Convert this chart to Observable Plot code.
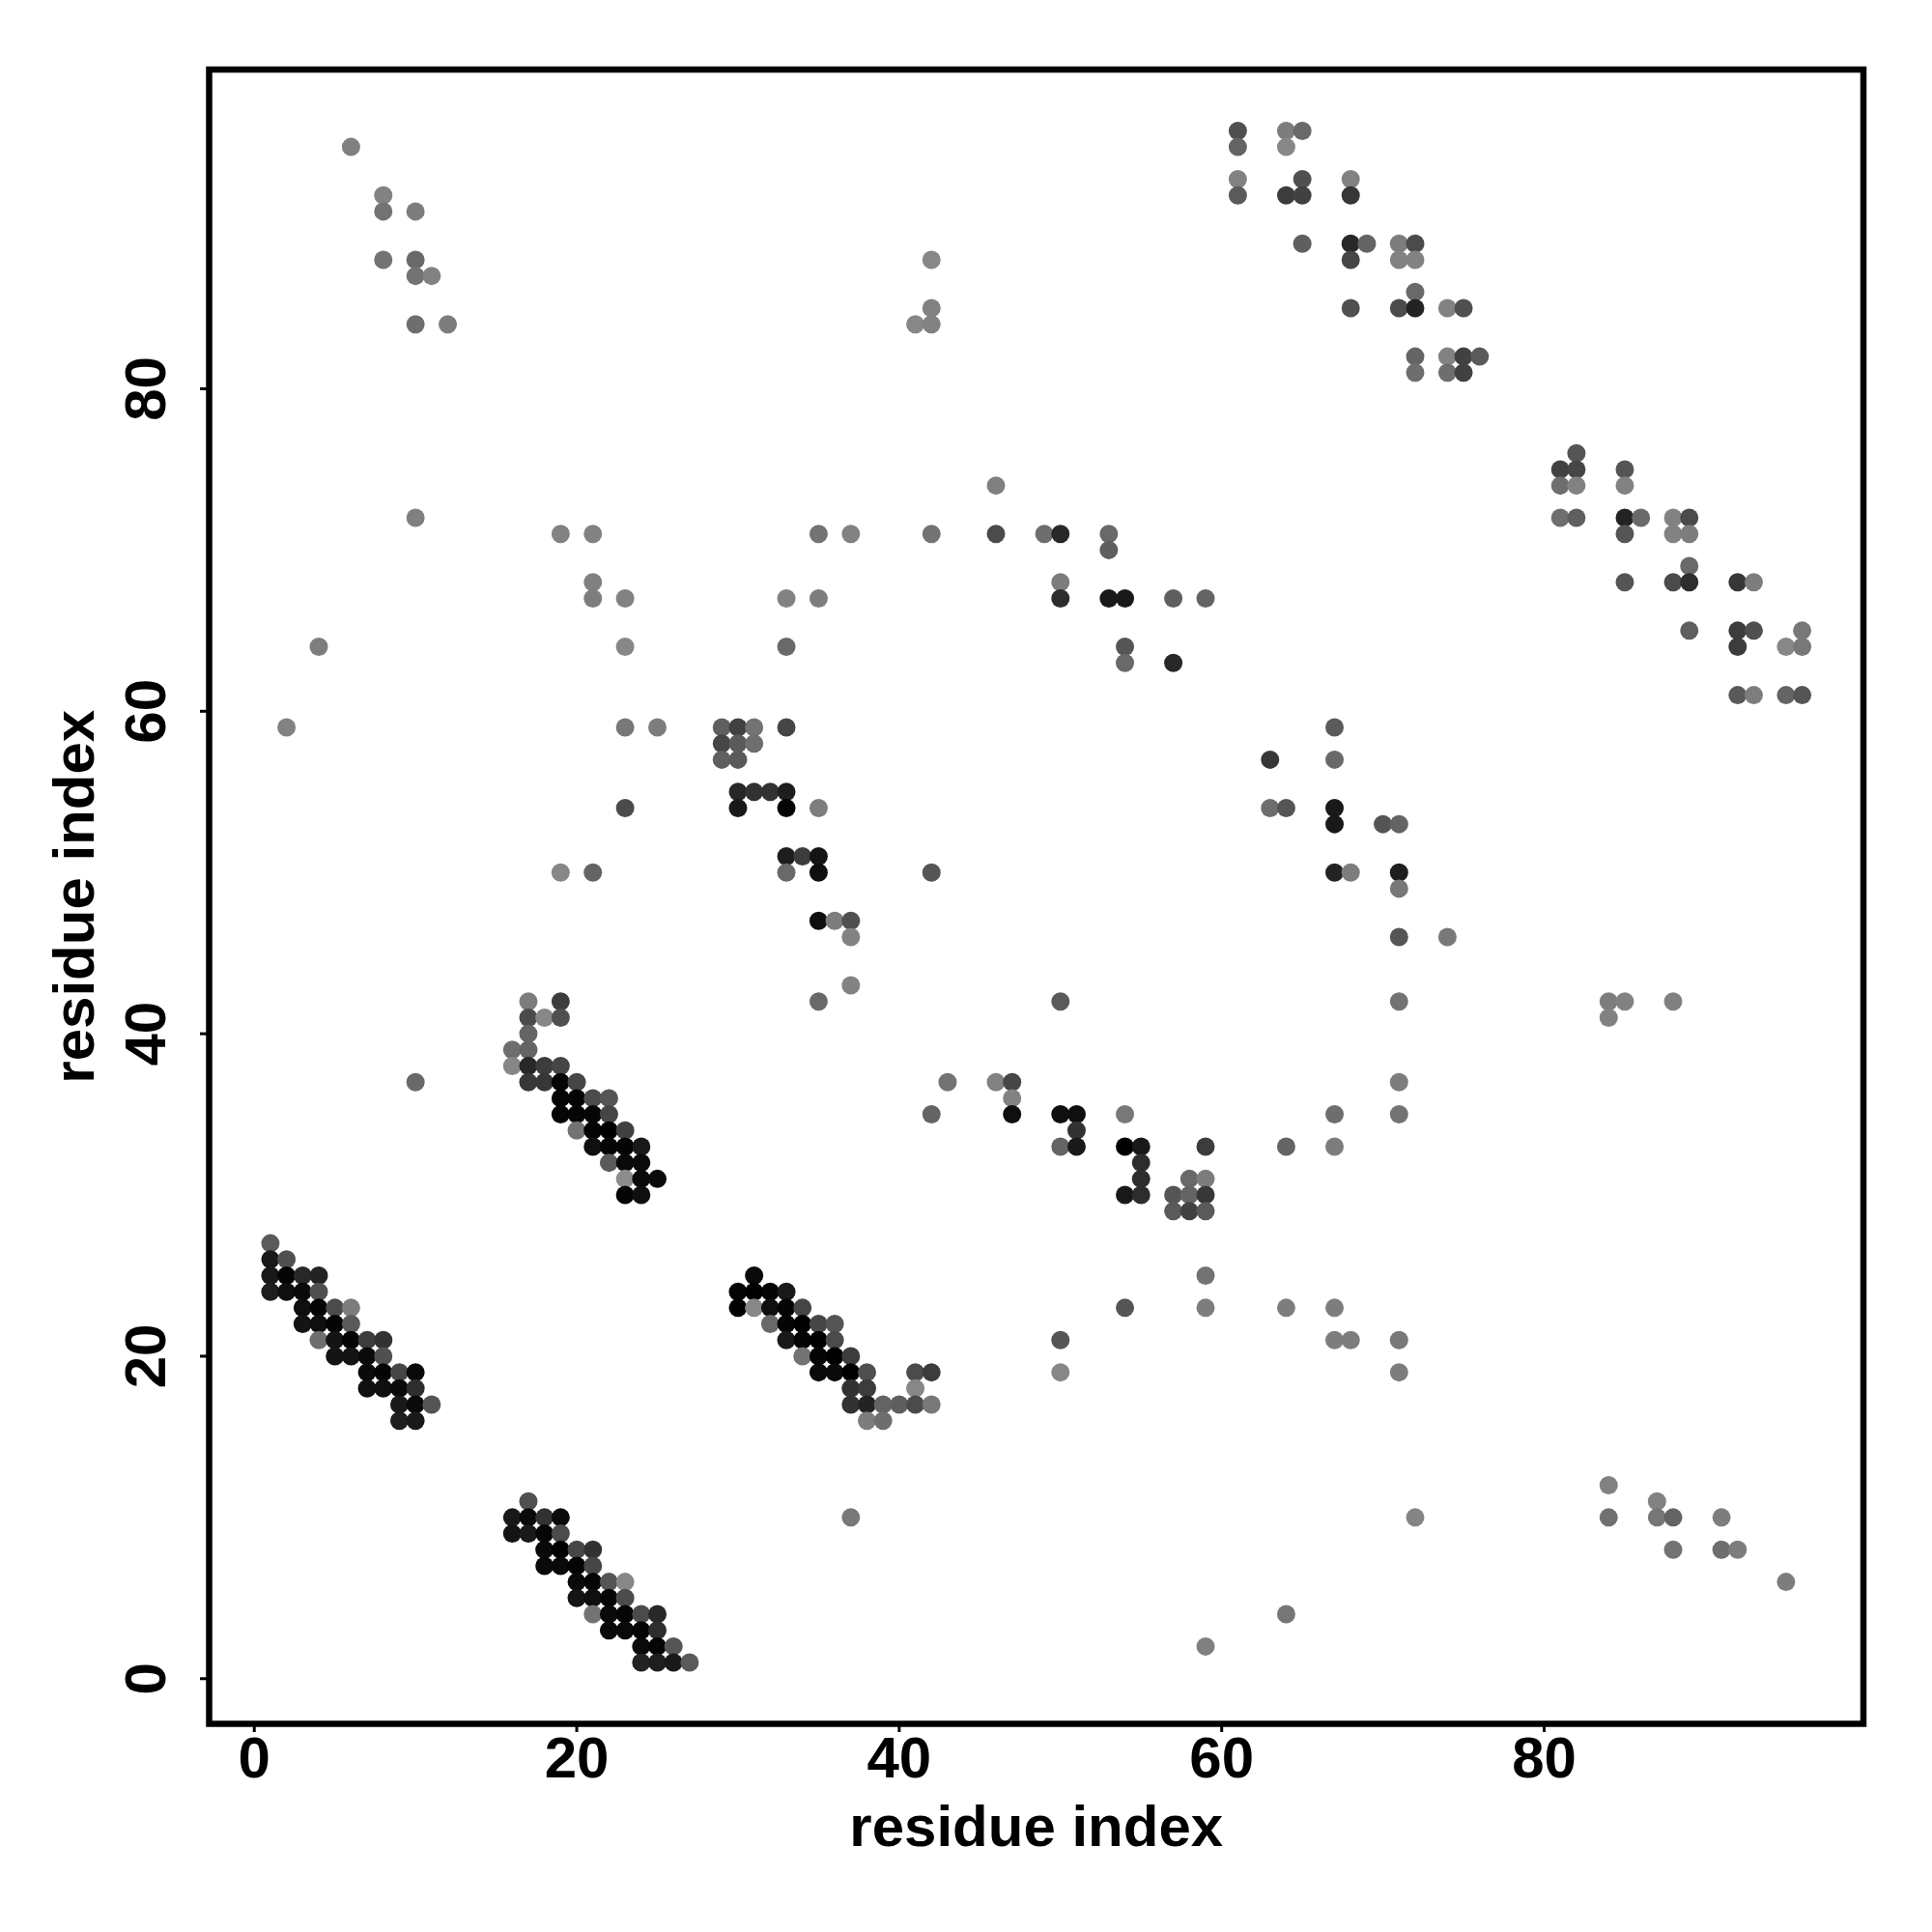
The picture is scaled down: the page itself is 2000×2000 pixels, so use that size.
<!DOCTYPE html>
<html>
<head>
<meta charset="utf-8">
<script src="https://cdn.jsdelivr.net/npm/d3@7"></script>
<script src="https://cdn.jsdelivr.net/npm/@observablehq/plot@0.6"></script>
<style>html,body{margin:0;padding:0;background:#fff}</style>
</head>
<body>
<div id="chart"></div>
<script>
const xIndex = [
61,64,65,
6,61,64,
61,65,68,
8,61,64,65,68,
8,10,
65,68,69,71,72,
8,10,42,68,71,72,
10,11,
72,
42,68,71,72,74,75,
10,12,41,42,
72,74,75,76,
72,74,75,
82,
81,82,85,
46,81,82,85,
10,81,82,85,86,88,89,
19,21,35,37,42,46,49,50,53,85,88,89,
53,
89,
21,50,85,88,89,92,93,
21,23,33,35,50,53,54,57,59,
89,92,93,96,
4,23,33,54,92,95,96,
54,57,
92,93,95,96,
2,23,25,29,30,31,33,67,
29,30,31,
29,30,63,67,
30,31,32,33,
23,30,33,35,63,64,67,
67,70,71,
33,34,35,
19,21,33,35,42,67,68,71,
71,
35,36,37,
37,71,74,
37,
17,19,35,50,71,84,85,88,
17,18,19,84,
17,
16,17,
16,17,18,19,
10,17,18,19,20,43,46,47,71,
19,20,21,22,47,
19,20,21,22,42,47,50,51,54,67,71,
20,21,22,23,51,
21,22,23,24,50,51,54,55,59,64,67,
22,23,24,55,
23,24,25,55,58,59,
23,24,54,55,57,58,59,
57,58,59,
1,
1,2,
1,2,3,4,31,59,
1,2,3,4,30,31,32,33,
3,4,5,6,30,31,32,33,34,54,59,64,67,
3,4,5,6,32,33,34,35,36,
4,5,6,7,8,33,34,35,36,50,67,68,71,
5,6,7,8,34,35,36,37,
7,8,9,10,35,36,37,38,41,42,50,71,
7,8,9,10,37,38,41,
9,10,11,37,38,39,40,41,42,
9,10,38,39,
84,
17,87,
16,17,18,19,37,72,84,87,88,91,
16,17,18,19,
18,19,20,21,88,91,92,
18,19,20,21,
20,21,22,23,95,
20,21,22,23,
21,22,23,24,25,64,
22,23,24,25,
24,25,26,59,
24,25,26,27
];
const yIndex = [
96,96,96,
95,95,95,
93,93,93,
92,92,92,92,92,
91,91,
89,89,89,89,89,
88,88,88,88,88,88,
87,87,
86,
85,85,85,85,85,85,
84,84,84,84,
82,82,82,82,
81,81,81,
76,
75,75,75,
74,74,74,74,
72,72,72,72,72,72,72,
71,71,71,71,71,71,71,71,71,71,71,71,
70,
69,
68,68,68,68,68,68,68,
67,67,67,67,67,67,67,67,67,
65,65,65,65,
64,64,64,64,64,64,64,
63,63,
61,61,61,61,
59,59,59,59,59,59,59,59,
58,58,58,
57,57,57,57,
55,55,55,55,
54,54,54,54,54,54,54,
53,53,53,
51,51,51,
50,50,50,50,50,50,50,50,
49,
47,47,47,
46,46,46,
43,
42,42,42,42,42,42,42,42,
41,41,41,41,
40,
39,39,
38,38,38,38,
37,37,37,37,37,37,37,37,37,
36,36,36,36,36,
35,35,35,35,35,35,35,35,35,35,35,
34,34,34,34,34,
33,33,33,33,33,33,33,33,33,33,33,
32,32,32,32,
31,31,31,31,31,31,
30,30,30,30,30,30,30,
29,29,29,
27,
26,26,
25,25,25,25,25,25,
24,24,24,24,24,24,24,24,
23,23,23,23,23,23,23,23,23,23,23,23,23,
22,22,22,22,22,22,22,22,22,
21,21,21,21,21,21,21,21,21,21,21,21,21,
20,20,20,20,20,20,20,20,
19,19,19,19,19,19,19,19,19,19,19,19,
18,18,18,18,18,18,18,
17,17,17,17,17,17,17,17,17,
16,16,16,16,
12,
11,11,
10,10,10,10,10,10,10,10,10,10,
9,9,9,9,
8,8,8,8,8,8,8,
7,7,7,7,
6,6,6,6,6,
5,5,5,5,
4,4,4,4,4,4,
3,3,3,3,
2,2,2,2,
1,1,1,1
];
const shade = [
80,125,105,
128,100,135,
130,80,130,
130,90,60,65,55,
115,125,
95,40,100,125,75,
115,105,135,70,130,130,
115,130,
105,
130,80,75,35,130,80,
110,125,135,130,
100,130,65,90,
110,110,65,
85,
65,70,85,
128,110,130,130,
128,110,95,35,105,130,75,
130,130,115,130,115,75,110,40,105,85,130,125,
95,
105,
128,125,85,75,45,55,125,
125,130,130,125,45,25,25,95,100,
95,60,80,120,
125,135,105,85,60,135,120,
105,40,
90,125,100,85,
130,120,125,95,65,115,70,90,
70,90,110,
95,90,55,105,
40,50,50,30,
75,25,5,125,110,85,25,
25,85,100,
30,60,20,
135,100,105,15,85,35,125,30,
120,
15,125,80,
130,85,120,
130,
125,60,105,90,115,125,130,128,
75,135,80,130,
100,
110,100,
135,40,60,70,
105,55,55,5,70,115,130,70,125,
5,5,75,85,130,
5,5,5,70,100,15,15,15,120,110,115,
115,5,0,65,50,
15,5,5,25,100,25,0,25,60,100,125,
90,10,10,45,
140,10,10,45,105,125,
5,15,25,45,85,100,55,
90,65,90,
90,
25,80,
25,5,40,35,10,115,
30,15,10,80,5,0,5,25,
15,5,75,125,0,135,15,5,70,85,125,125,125,
20,15,5,90,105,5,0,70,85,
110,20,5,60,50,25,5,0,75,85,125,125,120,
20,20,10,80,115,5,0,60,
10,5,70,10,10,10,0,80,75,60,135,125,
15,15,10,45,50,60,135,
25,10,85,50,35,100,95,75,120,
30,25,125,110,
130,
80,130,
25,10,50,10,120,132,112,118,100,125,
20,25,5,75,
10,0,70,50,115,110,125,
10,10,5,70,
10,5,85,135,125,
20,15,5,75,
115,10,5,75,40,118,
10,10,5,45,
10,5,85,128,
35,30,25,90
];

const points = xIndex.map((x, i) => ({x, y: yIndex[i], s: shade[i]}));
const font = '"Liberation Sans", Arimo, Helvetica, Arial, sans-serif';

const chart = Plot.plot({
  width: 2000,
  height: 2000,
  marginLeft: 216,
  marginRight: 71.5,
  marginTop: 71.5,
  marginBottom: 216,
  style: {background: "#fff", fontFamily: font},
  x: {domain: [-2.8, 99.8]},
  y: {domain: [-2.8, 99.8]},
  color: {type: "linear", domain: [0, 255], range: ["#000", "#fff"], interpolate: "rgb"},
  marks: [
    Plot.dot(points, {x: "x", y: "y", fill: "s", r: 9.5}),
    Plot.frame({stroke: "#000", strokeWidth: 6.5}),
    Plot.axisX({
      ticks: [0, 20, 40, 60, 80], tickSize: 9, strokeWidth: 3, stroke: "#000",
      tickPadding: 4, fontSize: 60, fontWeight: "bold", fill: "#000",
      label: "residue index", labelAnchor: "center", labelArrow: "none", labelOffset: 126.5
    }),
    Plot.axisY({
      ticks: [0, 20, 40, 60, 80], tickSize: 9, strokeWidth: 3, stroke: "#000",
      tickPadding: 37, tickRotate: -90, fontSize: 60, fontWeight: "bold", fill: "#000",
      label: "residue index", labelAnchor: "center", labelArrow: "none", labelOffset: 162
    })
  ]
});
document.getElementById("chart").appendChild(chart);
</script>
</body>
</html>
